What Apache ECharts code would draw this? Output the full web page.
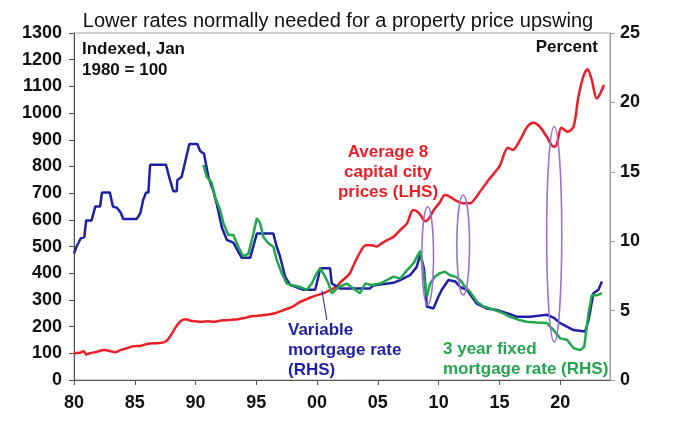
<!DOCTYPE html>
<html><head><meta charset="utf-8">
<script src="https://cdn.jsdelivr.net/npm/echarts@6/dist/echarts.min.js"></script>
<style>html,body{margin:0;padding:0;background:#fff}#c{width:675px;height:437px}</style>
</head><body><div id="c"></div>
<script>
// ---- data ----
const xTicks = [1980,1985,1990,1995,2000,2005,2010,2015,2020];
const priceYears = [1980.0,1980.5,1980.8,1981.0,1981.3,1981.8,1982.5,1983.0,1983.4,1983.8,1984.3,1984.8,1985.5,1986.0,1986.8,1987.3,1987.7,1988.0,1988.4,1988.8,1989.2,1989.6,1990.0,1990.5,1991.0,1991.5,1992.0,1992.5,1993.0,1993.5,1994.0,1994.5,1995.0,1995.5,1996.0,1996.5,1997.0,1997.5,1998.0,1998.5,1999.0,1999.5,2000.0,2000.5,2000.8,2001.2,2001.6,2002.0,2002.4,2002.7,2003.0,2003.5,2004.0,2004.5,2004.9,2005.3,2005.8,2006.3,2006.8,2007.4,2007.9,2008.2,2008.5,2008.9,2009.2,2009.6,2010.1,2010.5,2010.8,2011.2,2011.6,2012.0,2012.6,2013.0,2013.4,2014.2,2015.0,2015.7,2016.1,2016.7,2017.3,2017.8,2018.3,2018.9,2019.45,2019.7,2020.1,2020.6,2021.1,2021.5,2021.9,2022.25,2022.6,2023.0,2023.3,2023.6];
const priceValues = [100,102,108,96,100,105,112,108,104,112,118,126,128,135,138,140,150,170,200,222,228,222,220,218,220,218,222,224,226,228,232,238,240,243,245,250,258,266,275,290,300,310,318,325,331,340,350,370,385,400,430,475,505,505,500,512,525,537,560,587,637,632,618,595,605,637,665,693,690,678,668,662,662,680,705,755,800,870,862,899,949,964,950,911,874,880,945,930,949,1061,1136,1164,1124,1055,1074,1105];
const variableYears = [1980.0,1980.2,1980.35,1980.55,1980.85,1981.0,1981.45,1981.75,1982.15,1982.3,1982.95,1983.2,1983.55,1983.85,1984.05,1985.15,1985.45,1985.7,1985.93,1986.12,1986.26,1987.57,1987.9,1988.17,1988.45,1988.5,1988.86,1989.22,1989.49,1990.15,1990.37,1990.7,1991.05,1991.47,1991.74,1992.16,1992.57,1993.11,1993.8,1994.49,1995.04,1996.4,1996.68,1996.95,1997.37,1997.78,1998.87,1999.84,2000.11,2000.25,2001.07,2001.21,2001.89,2004.36,2004.6,2006.28,2006.83,2007.65,2008.2,2008.5,2008.6,2008.8,2009.03,2009.57,2009.98,2010.26,2010.81,2011.36,2011.77,2012.32,2013.14,2013.97,2014.79,2015.88,2016.44,2017.53,2018.91,2019.45,2020.0,2021.1,2022.06,2022.33,2022.74,2023.15,2023.43];
const variableRates = [9.1,9.6,9.85,10.2,10.3,11.5,11.5,12.5,12.5,13.5,13.5,12.5,12.4,12.05,11.6,11.6,12.0,13.0,13.5,13.5,15.5,15.5,14.4,13.6,13.6,14.4,14.65,16.0,17.0,17.0,16.5,16.3,14.65,13.6,12.7,11.0,10.1,9.9,8.8,8.8,10.55,10.55,9.6,8.9,7.45,6.85,6.5,6.5,7.45,8.05,8.05,6.95,6.6,6.6,6.8,7.0,7.2,7.55,8.15,9.1,9.1,8.0,5.3,5.15,6.0,6.5,7.2,7.1,6.7,6.5,5.5,5.15,5.05,4.75,4.55,4.55,4.7,4.5,4.1,3.6,3.5,4.3,6.25,6.5,7.1];
const fixedYears = [1990.64,1990.92,1991.33,1991.6,1992.02,1992.29,1992.7,1993.11,1993.52,1993.93,1994.35,1994.76,1995.04,1995.31,1995.58,1995.99,1996.4,1996.68,1997.09,1997.5,1997.9,1998.6,1999.15,1999.56,1999.97,2000.25,2000.66,2000.93,2001.21,2001.76,2002.44,2002.99,2003.54,2003.95,2004.5,2005.19,2005.74,2006.28,2006.83,2007.38,2007.93,2008.35,2008.5,2008.75,2009.03,2009.3,2009.71,2010.12,2010.53,2010.95,2011.36,2011.77,2012.18,2012.59,2013.14,2013.69,2014.24,2015.06,2015.88,2016.71,2017.26,2018.08,2018.91,2019.45,2020.0,2020.55,2021.1,2021.65,2021.98,2022.33,2022.6,2023.01,2023.43];
const fixedRates = [15.5,14.65,14.2,13.2,12.25,11.3,10.45,10.45,9.6,8.9,9.1,10.55,11.65,11.3,10.3,9.85,9.6,8.65,7.7,6.95,6.85,6.7,6.5,6.95,7.7,8.05,7.45,6.95,6.25,6.7,6.95,6.6,6.25,6.95,6.85,6.95,7.2,7.45,7.3,7.9,8.4,9.1,9.3,7.7,6.0,6.95,7.45,7.7,7.8,7.55,7.45,7.2,6.7,6.35,5.65,5.3,5.15,4.9,4.55,4.3,4.2,4.15,4.1,3.6,3.0,2.9,2.3,2.15,2.4,4.8,6.1,6.1,6.25];
// ellipse highlights: [centre year, half width (years), top (LHS), bottom (LHS)]
const ellipseCentres = [2009.1, 2012.02, 2019.51];
const ellipseHalfWidths = [0.48, 0.52, 0.62];
const ellipseTops = [649, 693, 949];
const ellipseBottoms = [281, 318, 143];
// pointer from "Variable mortgage rate" label (year, LHS value)
const pointerYears = [2000.4, 2000.8];
const pointerValues = [335, 225];

const zip = (a,b) => a.map((v,i)=>[v,b[i]]);
const FONT = '"Liberation Sans", Arial, sans-serif';
const RED='#ec1f26', BLUE='#1f1fa8', GREEN='#22a64e', PURPLE='#9a70d8';

const chart = echarts.init(document.getElementById('c'));
const lbl = {color:'#111', fontSize:18, fontWeight:'bold', fontFamily:FONT};
chart.setOption({
  animation:false,
  grid:{left:74, right:65, top:33, bottom:57, show:true, borderColor:'#a0a0a0', borderWidth:1},
  title:{text:'Lower rates normally needed for a property price upswing', left:333, textAlign:'center', top:6,
    textStyle:{fontFamily:FONT, fontSize:20, fontWeight:'normal', color:'#111'}},
  xAxis:{type:'value', min:1980, max:2024.1,
    axisLine:{lineStyle:{color:'#555', width:1}},
    axisTick:{show:true, length:5, lineStyle:{color:'#555'}, customValues:xTicks},
    axisLabel:Object.assign({margin:14, customValues:xTicks, formatter:v=>String(Math.round(v)%100).padStart(2,'0')}, lbl),
    splitLine:{show:false}},
  yAxis:[
    {type:'value', min:0, max:1300, interval:100, position:'left',
     axisLine:{show:true, lineStyle:{color:'#555'}}, axisTick:{show:true, length:5, lineStyle:{color:'#555'}},
     axisLabel:Object.assign({margin:12, formatter:v=>String(v)}, lbl), splitLine:{show:false}},
    {type:'value', min:0, max:25, interval:5, position:'right',
     axisLine:{show:true, lineStyle:{color:'#a0a0a0'}}, axisTick:{show:true, length:5, lineStyle:{color:'#a0a0a0'}},
     axisLabel:Object.assign({margin:10, formatter:v=>String(v)}, lbl), splitLine:{show:false}}
  ],
  graphic:[
    {type:'text', left:82, top:39, style:{text:'Indexed, Jan\n1980 = 100', font:'bold 17px '+FONT, fill:'#111', lineHeight:21}},
    {type:'text', right:77, top:39, style:{text:'Percent', font:'bold 17px '+FONT, fill:'#111'}},
    {type:'text', x:388, y:142, style:{text:'Average 8\ncapital city\nprices (LHS)', font:'bold 17px '+FONT, fill:RED, align:'center', lineHeight:20}},
    {type:'text', left:288, top:320, style:{text:'Variable\nmortgage rate\n(RHS)', font:'bold 17px '+FONT, fill:BLUE, lineHeight:20}},
    {type:'text', left:443, top:339, style:{text:'3 year fixed\nmortgage rate (RHS)', font:'bold 17px '+FONT, fill:GREEN, lineHeight:20}}
  ],
  series:[
    {type:'line', yAxisIndex:0, data:zip(priceYears, priceValues), showSymbol:false, smooth:0.3,
     lineStyle:{color:RED, width:2.5}, z:3},
    {type:'line', yAxisIndex:1, data:zip(variableYears, variableRates), showSymbol:false,
     lineStyle:{color:BLUE, width:2.5}, z:4},
    {type:'line', yAxisIndex:1, data:zip(fixedYears, fixedRates), showSymbol:false,
     lineStyle:{color:GREEN, width:2.5}, z:5},
    {type:'line', yAxisIndex:0, data:zip(pointerYears, pointerValues), showSymbol:false,
     lineStyle:{color:BLUE, width:1}, z:6},
    {type:'custom', yAxisIndex:0, z:7,
     data: ellipseCentres.map((c,i)=>[c, ellipseHalfWidths[i], ellipseTops[i], ellipseBottoms[i]]),
     encode:{x:0, y:2},
     renderItem:(params, api)=>{
       const c = api.value(0), hw = api.value(1), t = api.value(2), b = api.value(3);
       const pTop = api.coord([c, t]), pBot = api.coord([c, b]);
       const pL = api.coord([c-hw, t]), pR = api.coord([c+hw, t]);
       return {type:'ellipse', shape:{cx:pTop[0], cy:(pTop[1]+pBot[1])/2, rx:(pR[0]-pL[0])/2, ry:(pBot[1]-pTop[1])/2},
         style:{fill:'none', stroke:PURPLE, lineWidth:1.6}};
     }}
  ]
});
</script></body></html>
